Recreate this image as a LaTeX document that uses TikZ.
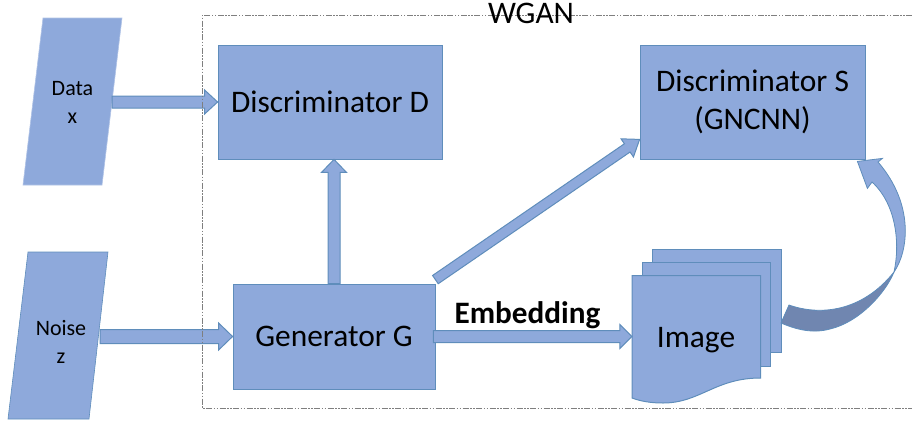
\documentclass[tikz,border=0pt]{standalone}
\usepackage{fontspec}
\setmainfont{Carlito}
\usetikzlibrary{calc}
\definecolor{boxfill}{HTML}{8EA9DB}
\definecolor{boxline}{HTML}{5F8DBB}
\definecolor{darkfold}{HTML}{7086B0}
\definecolor{framegrey}{HTML}{7F7F7F}
\tikzset{
  x=1pt,y=-1pt,
  box/.style={draw=boxline,fill=boxfill,line width=0.8pt,inner sep=0pt,align=center,font=\fontsize{31.4}{37.5}\selectfont},
  slantlabel/.style={inner sep=0pt,align=center,font=\fontsize{22}{28}\selectfont},
  slantshape/.style={fill=boxfill,draw=boxline,line width=0.6pt,line join=miter},
  blockarrow/.style={fill=boxfill,draw=boxline,line width=1pt,line join=miter},
  docsheet/.style={fill=boxfill,draw=boxline,line width=1pt},
  frameline/.style={draw=framegrey,line width=0.9pt,dash pattern=on 6pt off 1.5pt on 1.5pt off 1.5pt on 1.5pt off 1.5pt}
}
% start, end, half shaft, half head, head length
\newcommand{\blockarr}[5]{%
  \coordinate (ba-s) at #1;
  \coordinate (ba-e) at #2;
  \coordinate (ba-b) at ($(ba-e)!#5pt!(ba-s)$);
  \draw[blockarrow] ($(ba-s)!#3pt!90:(ba-e)$) -- ($(ba-b)!#3pt!-90:(ba-s)$) -- ($(ba-b)!#4pt!-90:(ba-s)$) -- (ba-e)
     -- ($(ba-b)!#4pt!90:(ba-s)$) -- ($(ba-b)!#3pt!90:(ba-s)$) -- ($(ba-s)!#3pt!-90:(ba-e)$) -- cycle;
}
\begin{document}
\begin{tikzpicture}
\useasboundingbox (0,0) rectangle (912,421);
% slanted input shapes
\path[slantshape,draw=boxfill!70!white] (122,18) -- (43,18) -- (23,185) -- (102,185) -- cycle;
\path[slantshape] (108,252) -- (28,252) -- (8,419) -- (89,419) -- cycle;
\node[slantlabel,minimum width=79pt,minimum height=167pt] (data) at (72.5,102) {Data\\x};
\node[slantlabel,minimum width=78pt,minimum height=167pt] (noise) at (61,341.5) {Noise\\z};
% boxes
\node[box,minimum width=224pt,minimum height=114pt] (D) at (330,102) {Discriminator D};
\node[box,minimum width=225pt,minimum height=114pt] (S) at (752.5,102) {\raisebox{-4pt}{Discriminator S}\\\raisebox{-4pt}{(GNCNN)}};
\node[box,minimum width=202pt,minimum height=105pt] (G) at (334,336.5) {Generator G};
% document stack
\path[docsheet] (652,249) rectangle (781,352);
\path[docsheet] (642,262) rectangle (770,366);
\coordinate (stackeast) at (781,314);
\path[docsheet] (632,275.5) -- (760.5,275.5) -- (760.5,378) .. controls (715,378) and (700,403) .. (663,403) .. controls (650,403) and (640,401) .. (632,398) -- cycle;
\node[inner sep=0pt,minimum width=128pt,minimum height=122pt,font=\fontsize{31.4}{37.5}\selectfont] (img) at (696,340.5) {Image};
% straight connectors
\blockarr{(data.east)}{(D.west)}{6}{12}{13}
\blockarr{(noise.east |- G.west)}{(G.west)}{7}{13.5}{14}
\blockarr{(G.north)}{(G.north |- D.south)}{6}{12.5}{13}
\blockarr{([yshift=4pt]G.north east)}{([yshift=20pt]S.south west)}{5}{11}{15}
\blockarr{([xshift=-2pt]G.east)}{(G.east -| img.west)}{6}{12}{12}
\node[font=\bfseries\fontsize{31.2}{37}\selectfont,inner sep=0pt] (emb) at (527.5,315) {Embedding};
% curved connector
\coordinate (tailA) at ($(stackeast)+(8,-9)$);
\coordinate (tailB) at ($(stackeast)+(0,9)$);
\coordinate (fold) at (894,272);
\coordinate (curvetip) at ($(S.south east)+(-8,2)$);
\draw[fill=darkfold,draw=boxline,line width=0.8pt] (tailA) .. controls (820,316) and (862,312) .. (fold) .. controls (886,292) and (860,322) .. (830,329) .. controls (812,334) and (795,329) .. (tailB) -- cycle;
\draw[fill=boxfill,draw=boxline,line width=0.8pt] (fold) .. controls (908,252) and (915,205) .. (878,162) -- ($(curvetip)+(25,-3)$) -- (curvetip) -- ($(curvetip)+(10,27)$) -- (872,182) .. controls (897,205) and (900,245) .. (fold) -- cycle;
% WGAN frame, open at the right edge of the picture
\coordinate (frameTR) at (912,15);
\coordinate (frameTL) at (202,15);
\coordinate (frameBL) at (202,408);
\coordinate (frameBR) at (912,408);
\draw[frameline] (frameTR) -- (frameTL) -- (frameBL) -- (frameBR);
\node[font=\fontsize{31.4}{37.5}\selectfont,inner sep=0pt] (wgan) at (531,13) {WGAN};
\end{tikzpicture}
\end{document}
